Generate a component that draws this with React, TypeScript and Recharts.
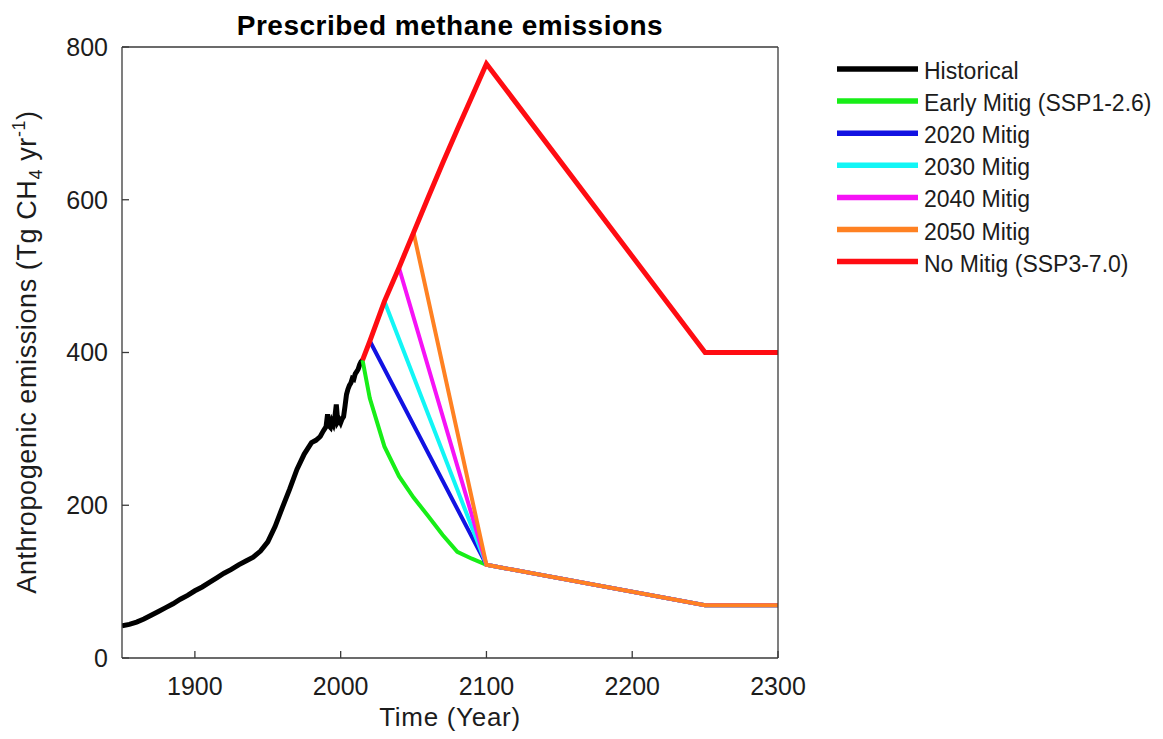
import React from "react";
import { Label, Line, LineChart, XAxis, YAxis } from "recharts";

// Anthropogenic CH4 emissions, Tg CH4 / yr
const historicalYears = [
  1850, 1855, 1860, 1865, 1870, 1875, 1880, 1885, 1890, 1895, 1900, 1905, 1910, 1915, 1920, 1925, 1930, 1935,
  1940, 1945, 1950, 1955, 1960, 1965, 1970, 1975, 1980, 1983, 1986, 1988, 1990, 1991, 1992, 1993, 1994, 1995,
  1996, 1997, 1998, 1999, 2000, 2001, 2002, 2003, 2004, 2005, 2006, 2007, 2008, 2009, 2010, 2011, 2012, 2013,
  2014, 2015,
];
const historicalValues = [
  42, 44, 47, 51, 56, 61, 66, 71, 77, 82, 88, 93, 99, 105, 111, 116, 122, 127, 132, 140, 152, 172, 197, 221,
  247, 267, 282, 285, 290, 297, 303, 319, 304, 302, 310, 306, 315, 332, 309, 312, 308, 313, 316, 330, 345, 352,
  357, 360, 366, 365, 372, 375, 378, 384, 388, 390,
];

const earlyYears = [2015, 2020, 2030, 2040, 2050, 2060, 2070, 2080, 2090, 2100, 2250, 2300];
const earlyValues = [390, 340, 277, 238, 210, 186, 161, 139, 130, 122, 69, 69];

const mitig2020Years = [2020, 2100, 2250, 2300];
const mitig2020Values = [415, 122, 69, 69];

const mitig2030Years = [2030, 2100, 2250, 2300];
const mitig2030Values = [467, 122, 69, 69];

const mitig2040Years = [2040, 2100, 2250, 2300];
const mitig2040Values = [511, 122, 69, 69];

const mitig2050Years = [2050, 2100, 2250, 2300];
const mitig2050Values = [557, 122, 69, 69];

const noMitigYears = [2015, 2020, 2030, 2040, 2050, 2060, 2070, 2080, 2090, 2100, 2250, 2300];
const noMitigValues = [390, 415, 467, 511, 557, 603, 648, 692, 735, 778, 400, 400];

const xTicks = [1900, 2000, 2100, 2200, 2300];
const yTicks = [0, 200, 400, 600, 800];

const toPoints = (years: number[], values: number[]) => years.map((year, i) => ({ year, v: values[i] }));

const series = [
  { name: "Historical", color: "#000000", width: 5, data: toPoints(historicalYears, historicalValues) },
  { name: "Early Mitig (SSP1-2.6)", color: "#17ee17", width: 4, data: toPoints(earlyYears, earlyValues) },
  { name: "2020 Mitig", color: "#1212e2", width: 4, data: toPoints(mitig2020Years, mitig2020Values) },
  { name: "2030 Mitig", color: "#12f6f6", width: 4, data: toPoints(mitig2030Years, mitig2030Values) },
  { name: "2040 Mitig", color: "#f612f6", width: 4, data: toPoints(mitig2040Years, mitig2040Values) },
  { name: "2050 Mitig", color: "#ff8122", width: 4, data: toPoints(mitig2050Years, mitig2050Values) },
  { name: "No Mitig (SSP3-7.0)", color: "#ff0c12", width: 5, data: toPoints(noMitigYears, noMitigValues) },
];

const FONT = '"Liberation Sans", Arial, Helvetica, sans-serif';
const AXIS = "#3a3a3a";
const TEXT = "#1c1c1c";

const W = 1163;
const H = 739;
// plot box: x 122..778, y 47..658
const margin = { top: 46, right: 384, bottom: 21, left: 62 };

function XTitle() {
  return (
    <text x={450} y={726} textAnchor="middle" fontSize={26} letterSpacing={0.7} fill={TEXT} fontFamily={FONT}>
      Time (Year)
    </text>
  );
}

function YTitle() {
  return (
    <text
      transform="translate(36, 352) rotate(-90)"
      textAnchor="middle"
      fontSize={27}
      letterSpacing={0.6}
      fill={TEXT}
      fontFamily={FONT}
    >
      Anthropogenic emissions (Tg CH
      <tspan fontSize={18} dy={6}>4</tspan>
      <tspan dy={-6}> yr</tspan>
      <tspan fontSize={18} dy={-11}>-1</tspan>
      <tspan dy={11}>)</tspan>
    </text>
  );
}

function ChartTitle() {
  return (
    <text
      x={450}
      y={35}
      textAnchor="middle"
      fontSize={28}
      fontWeight="bold"
      letterSpacing={0.5}
      fill="#000"
      fontFamily={FONT}
    >
      Prescribed methane emissions
    </text>
  );
}

function LegendBox() {
  return (
    <svg width={333} height={240} style={{ position: "absolute", left: 830, top: 50 }}>
      {series.map((s, i) => {
        const y = 19 + i * 32.1;
        return (
          <g key={s.name}>
            <line x1={7} x2={88} y1={y} y2={y} stroke={s.color} strokeWidth={5.5} />
            <text x={94} y={y + 10} fontSize={23} fill={TEXT} fontFamily={FONT}>
              {s.name}
            </text>
          </g>
        );
      })}
    </svg>
  );
}

export default function App() {
  return (
    <div style={{ position: "absolute", left: 0, top: 0, width: W, height: H, background: "#fff" }}>
      <LineChart width={W} height={H} margin={margin}>
        <XAxis
          dataKey="year"
          type="number"
          domain={[1850, 2300]}
          allowDataOverflow
          ticks={xTicks}
          height={60}
          tickSize={-7}
          tickMargin={26}
          stroke={AXIS}
          strokeWidth={1.3}
          tick={{ fill: TEXT, fontSize: 25, fontFamily: FONT }}
        >
          <Label content={XTitle} />
        </XAxis>
        <XAxis
          xAxisId="top"
          orientation="top"
          type="number"
          domain={[1850, 2300]}
          allowDataOverflow
          ticks={xTicks}
          height={1}
          tickSize={-7}
          tick={false}
          stroke={AXIS}
          strokeWidth={1.3}
        >
          <Label content={ChartTitle} />
        </XAxis>
        <YAxis
          type="number"
          domain={[0, 800]}
          allowDataOverflow
          ticks={yTicks}
          width={60}
          tickSize={-7}
          tickMargin={21}
          stroke={AXIS}
          strokeWidth={1.3}
          tick={{ fill: TEXT, fontSize: 25, fontFamily: FONT }}
        >
          <Label content={YTitle} />
        </YAxis>
        <YAxis
          yAxisId="right"
          orientation="right"
          type="number"
          domain={[0, 800]}
          allowDataOverflow
          ticks={yTicks}
          width={1}
          tickSize={-7}
          tick={false}
          stroke={AXIS}
          strokeWidth={1.3}
        />
        {series.map((s) => (
          <Line
            key={s.name}
            data={s.data}
            dataKey="v"
            name={s.name}
            type="linear"
            stroke={s.color}
            strokeWidth={s.width}
            dot={false}
            activeDot={false}
            isAnimationActive={false}
          />
        ))}
      </LineChart>
      <LegendBox />
    </div>
  );
}
